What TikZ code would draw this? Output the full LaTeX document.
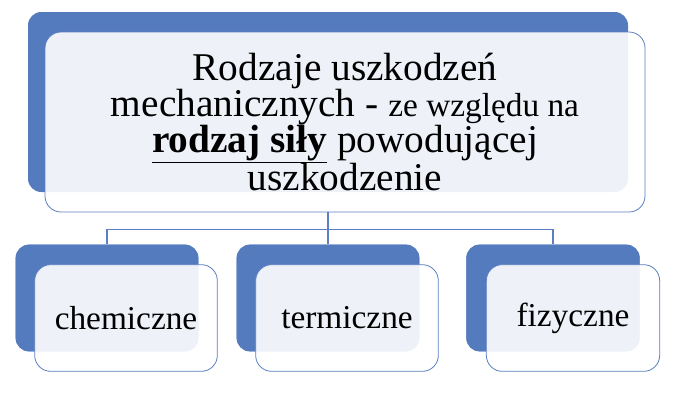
\documentclass[tikz,border=0pt]{standalone}
\usepackage{fontspec}
\setmainfont{Liberation Serif}
\definecolor{smartblue}{HTML}{557BBF}
\definecolor{smartline}{HTML}{5B7FC2}
\tikzset{
	backbox/.style={rectangle, rounded corners=10pt, fill=smartblue, draw=none},
	frontbox/.style={rectangle, rounded corners=12pt, draw=smartline, fill=white, fill opacity=0.9, text opacity=1, align=center, semithick},
	link/.style={draw=smartline, thick}
}
\begin{document}
\begin{tikzpicture}[x=0.75pt, y=-0.75pt]
	\useasboundingbox (0,0) rectangle (680,400);
	% main box
	\node[backbox, minimum width=450pt, minimum height=135pt] (mainback) at (328,102) {};
	\node[frontbox, minimum width=450pt, minimum height=135pt, font=\fontsize{29.5}{28}\selectfont] (main) at (345,122)
		{Rodzaje uszkodzeń\\[-1pt] mechanicznych - {\fontsize{25}{28}\selectfont ze względu na}\\[-1pt] \underline{\textbf{rodzaj siły}} powodującej\\[-1pt] uszkodzenie};
	% children
	\node[backbox, minimum width=137pt, minimum height=80pt] (chemback) at (107,298) {};
	\node[backbox, minimum width=137pt, minimum height=80pt] (termback) at (328,298) {};
	\node[backbox, minimum width=130pt, minimum height=80pt] (fizback) at (553,298) {};
	\draw[link] (mainback.south |- main.south) -- ++(0,17) coordinate (split);
	\draw[link] (chemback.north) |- (split) -| (fizback.north);
	\draw[link] (split) -- (termback.north);
	\node[backbox, minimum width=137pt, minimum height=80pt] at (107,298) {};
	\node[backbox, minimum width=137pt, minimum height=80pt] at (328,298) {};
	\node[backbox, minimum width=130pt, minimum height=80pt] at (553,298) {};
	\node[frontbox, minimum width=137pt, minimum height=80pt, font=\fontsize{25}{25}\selectfont] (chem) at (126,318) {chemiczne};
	\node[frontbox, minimum width=137pt, minimum height=80pt, font=\fontsize{25}{25}\selectfont] (term) at (347,318) {termiczne};
	\node[frontbox, minimum width=130pt, minimum height=80pt, font=\fontsize{25}{25}\selectfont] (fiz) at (573,318) {fizyczne};
\end{tikzpicture}
\end{document}
